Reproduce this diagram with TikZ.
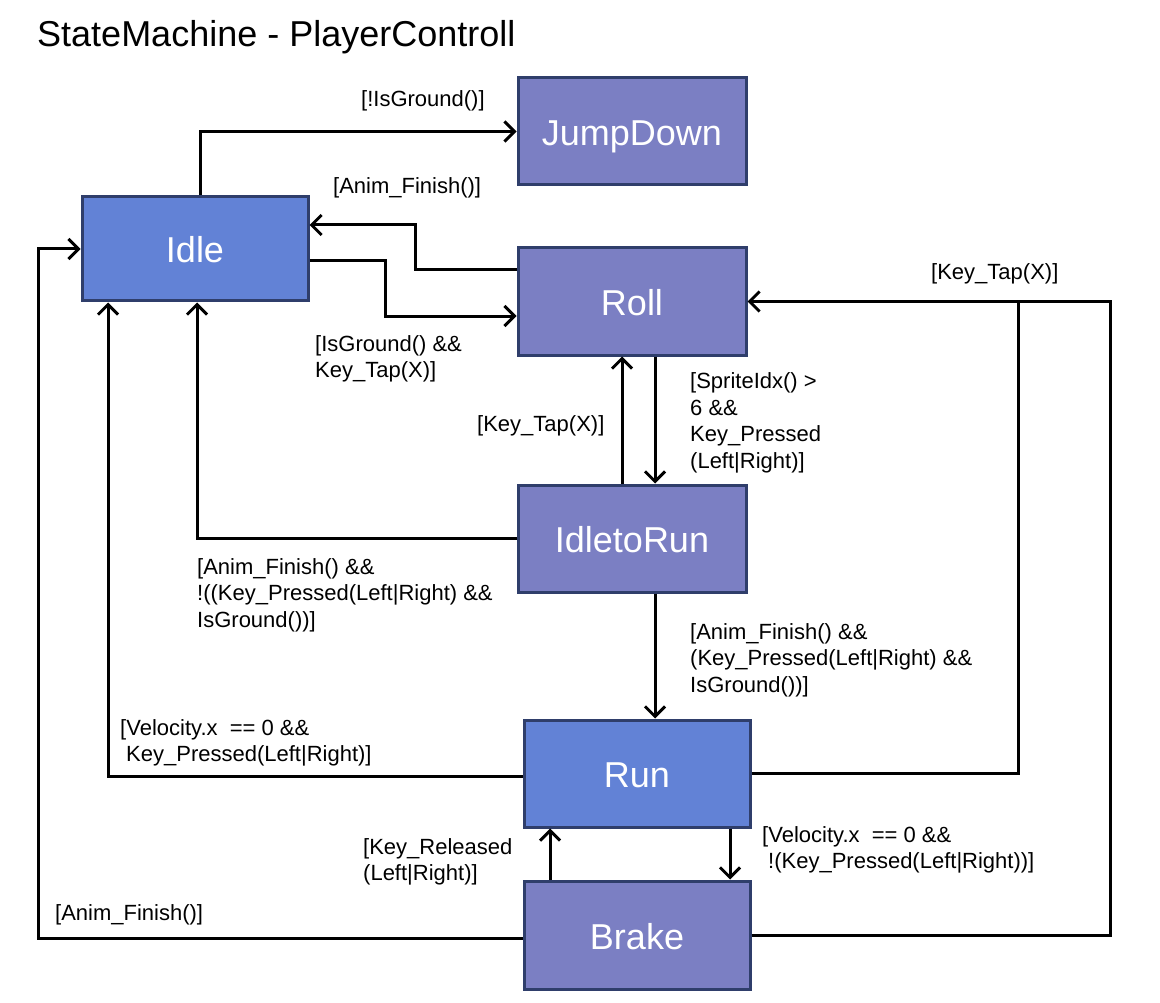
\documentclass[tikz,border=0pt]{standalone}
\usepackage{fontspec}
\setmainfont{Liberation Sans}
\usetikzlibrary{arrows.meta}
\definecolor{stblue}{HTML}{6282D6}
\definecolor{stpurple}{HTML}{7B7FC3}
\definecolor{stborder}{HTML}{2F3E6B}
\tikzset{
  statebox/.style={draw=stborder, line width=3pt, rectangle, text=white,
    font=\fontsize{36}{40}\selectfont, inner sep=0pt, text height=30pt, text depth=2pt},
  bluebox/.style={statebox, fill=stblue},
  purplebox/.style={statebox, fill=stpurple},
  conn/.style={line width=3pt, draw=black},
  arr/.style={conn, -{Straight Barb[length=10pt,width=20pt,line width=3pt]}},
  guard/.style={font=\fontsize{22}{26.5}\selectfont, inner sep=0pt, align=left, anchor=west, yshift=-2pt}
}
\begin{document}
\begin{tikzpicture}[x=1pt,y=-1pt]
\useasboundingbox[fill=white] (0,0) rectangle (1160,1003);
\node[anchor=base west, inner sep=0pt, font=\fontsize{36}{40}\selectfont] (title) at (37,47) {StateMachine - PlayerControll};

\node[bluebox, minimum width=226pt, minimum height=104pt] (Idle) at (195,249) {Idle};
\node[purplebox, minimum width=228pt, minimum height=107pt] (JumpDown) at (632,131.5) {JumpDown};
\node[purplebox, minimum width=228pt, minimum height=107pt] (Roll) at (632,301.5) {Roll};
\node[purplebox, minimum width=228pt, minimum height=107pt] (IdletoRun) at (632,538.5) {IdletoRun};
\node[bluebox, minimum width=226pt, minimum height=107pt] (Run) at (637,773.5) {Run};
\node[purplebox, minimum width=226pt, minimum height=108pt] (Brake) at (637,935) {Brake};

% connectors
\draw[arr] ([xshift=5pt]Idle.north) |- (JumpDown.west);
\draw[arr] ([yshift=31.5pt]Roll.west) -- (415,270) -- (415,225) -- ([yshift=24pt]Idle.east);
\draw[arr] ([yshift=-12pt]Idle.east) -- (385,261) -- (385,316) -- ([yshift=-14.5pt]Roll.west);
\draw[arr] ([xshift=-10pt]IdletoRun.north) -- ([xshift=-10pt]Roll.south);
\draw[arr] ([xshift=23pt]Roll.south) -- ([xshift=23pt]IdletoRun.north);
\draw[arr] (IdletoRun.west) -| ([xshift=2pt]Idle.south);
\draw[arr] ([xshift=23pt]IdletoRun.south) -- ([xshift=18pt]Run.north);
\draw[arr] ([yshift=-2.5pt]Run.west) -| ([xshift=-87pt]Idle.south);
\coordinate (join) at (1018,301.5);
\draw[arr] ([yshift=0.5pt]Run.east) -- (1018,773) -- (join) -- (Roll.east);
\draw[conn] (Brake.east) -- (1110,935) -- (1110,301.5) -- (join);
\draw[arr] ([xshift=93pt]Run.south) -- ([xshift=93pt]Brake.north);
\draw[arr] ([xshift=-87pt]Brake.north) -- ([xshift=-87pt]Run.south);
\draw[arr] ([yshift=-3pt]Brake.west) -- (38,938) -- (38,249) -- (Idle.west);

% guards
\node[guard] (g1) at (361,99) {[!IsGround()]};
\node[guard] (g2) at (333,186) {[Anim\_Finish()]};
\node[guard] (g3) at (315,357) {[IsGround() \&\&\\Key\_Tap(X)]};
\node[guard] (g4) at (477,424) {[Key\_Tap(X)]};
\node[guard] (g5) at (690,421) {[SpriteIdx() >\\6 \&\&\\Key\_Pressed\\(Left|Right)]};
\node[guard] (g6) at (197,593) {[Anim\_Finish() \&\&\\!((Key\_Pressed(Left|Right) \&\&\\IsGround())]};
\node[guard] (g7) at (690,658) {[Anim\_Finish() \&\&\\(Key\_Pressed(Left|Right) \&\&\\IsGround())]};
\node[guard] (g8) at (120,741) {[Velocity.x~~== 0 \&\&\\\hspace*{6pt}Key\_Pressed(Left|Right)]};
\node[guard] (g9) at (931,272) {[Key\_Tap(X)]};
\node[guard] (g10) at (762,848) {[Velocity.x~~== 0 \&\&\\\hspace*{6pt}!(Key\_Pressed(Left|Right))]};
\node[guard] (g11) at (363,860) {[Key\_Released\\(Left|Right)]};
\node[guard] (g12) at (55,913) {[Anim\_Finish()]};
\end{tikzpicture}
\end{document}
